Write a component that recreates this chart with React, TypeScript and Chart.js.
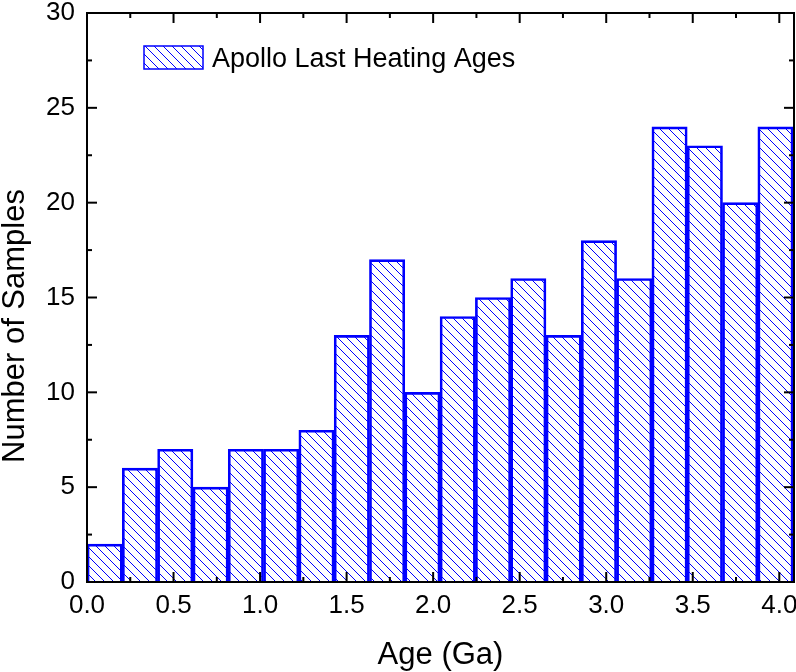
import React, { useEffect, useRef } from "react";
import { Chart, registerables } from "chart.js";

Chart.register(...registerables);

// Histogram bins (Ga): bin centers, width 0.204 Ga
const binCenters = [
  0.102, 0.306, 0.51, 0.714, 0.918, 1.122, 1.326, 1.53, 1.734, 1.938,
  2.142, 2.346, 2.55, 2.754, 2.958, 3.162, 3.366, 3.57, 3.774, 3.978,
];
const sampleCounts = [2, 6, 7, 5, 7, 7, 8, 13, 17, 10, 14, 15, 16, 13, 18, 16, 24, 23, 20, 24];
const seriesLabel = "Apollo Last Heating Ages";
const xTitle = "Age (Ga)";
const yTitle = "Number of Samples";
const xMin = 0;
const xMax = 4.085;
const yMin = 0;
const yMax = 30;

const FONT = "'Liberation Sans', Arial, Helvetica, sans-serif";
const BLUE = "#0000ff";

function makeHatch(): CanvasPattern | string {
  const s = 9;
  const c = document.createElement("canvas");
  c.width = s;
  c.height = s;
  const g = c.getContext("2d");
  if (!g) return BLUE;
  g.strokeStyle = BLUE;
  g.lineWidth = 1;
  g.beginPath();
  g.moveTo(0, 0);
  g.lineTo(s, s);
  g.moveTo(-2, s - 2);
  g.lineTo(2, s + 2);
  g.moveTo(s - 2, -2);
  g.lineTo(s + 2, 2);
  g.stroke();
  const p = g.createPattern(c, "repeat");
  return p || BLUE;
}

export default function App() {
  const ref = useRef<HTMLCanvasElement | null>(null);

  useEffect(() => {
    document.body.style.margin = "0";
    const canvas = ref.current;
    if (!canvas) return;
    const hatch = makeHatch();

    const framePlugin = {
      id: "frameTicks",
      afterDatasetsDraw(chart: any) {
        const { ctx, chartArea } = chart;
        const { left, right, top, bottom } = chartArea;
        const xs = chart.scales.x;
        const ys = chart.scales.y;
        ctx.save();
        ctx.strokeStyle = "#000";
        ctx.lineWidth = 2;
        const line = (x1: number, y1: number, x2: number, y2: number) => {
          ctx.beginPath();
          ctx.moveTo(x1, y1);
          ctx.lineTo(x2, y2);
          ctx.stroke();
        };
        const major = 10;
        const minor = 5;
        const xt = xs.ticks.map((t: any) => t.value);
        for (let i = 0; i < xt.length; i++) {
          const px = xs.getPixelForValue(xt[i]);
          line(px, bottom, px, bottom - major);
          line(px, top, px, top + major);
          const mv = xt[i] + 0.25;
          if (mv < xMax) {
            const pm = xs.getPixelForValue(mv);
            line(pm, bottom, pm, bottom - minor);
            line(pm, top, pm, top + minor);
          }
        }
        const yt = ys.ticks.map((t: any) => t.value);
        for (let i = 0; i < yt.length; i++) {
          const py = ys.getPixelForValue(yt[i]);
          line(left, py, left + major, py);
          line(right, py, right - major, py);
          const mv = yt[i] + 2.5;
          if (mv < yMax) {
            const pm = ys.getPixelForValue(mv);
            line(left, pm, left + minor, pm);
            line(right, pm, right - minor, pm);
          }
        }
        ctx.strokeRect(left, top, right - left, bottom - top);
        ctx.restore();
      },
      afterDraw(chart: any) {
        const { ctx } = chart;
        ctx.save();
        const bx = 144, by = 46, bw = 59, bh = 23;
        ctx.fillStyle = hatch as any;
        ctx.fillRect(bx, by, bw, bh);
        ctx.strokeStyle = BLUE;
        ctx.lineWidth = 1.5;
        ctx.strokeRect(bx, by, bw, bh);
        ctx.fillStyle = "#000";
        ctx.font = `27px ${FONT}`;
        ctx.textBaseline = "alphabetic";
        ctx.textAlign = "left";
        ctx.fillText(chart.data.datasets[0].label, 212, 67);
        ctx.restore();

        // y-axis title (placed slightly below the axis centre, as in the reference)
        ctx.save();
        ctx.translate(15.5, 326);
        ctx.rotate(-Math.PI / 2);
        ctx.fillStyle = "#000";
        ctx.font = `31px ${FONT}`;
        ctx.textAlign = "center";
        ctx.textBaseline = "middle";
        ctx.fillText(yTitle, 0, 0);
        ctx.restore();
      },
    };

    const chart = new Chart(canvas, {
      type: "bar",
      data: {
        datasets: [
          {
            label: seriesLabel,
            data: binCenters.map((x, i) => ({ x, y: sampleCounts[i] })),
            backgroundColor: hatch as any,
            borderColor: BLUE,
            borderWidth: 2,
            barPercentage: 1,
            categoryPercentage: 1,
          },
        ],
      },
      options: {
        responsive: false,
        maintainAspectRatio: false,
        devicePixelRatio: 1,
        animation: false,
        layout: { padding: { top: 13, right: 2, left: 0, bottom: 0 } },
        plugins: {
          legend: { display: false },
          tooltip: { enabled: false },
        },
        scales: {
          x: {
            type: "linear",
            min: xMin,
            max: xMax,
            offset: false,
            grid: { display: false, drawTicks: false, offset: false },
            border: { display: false },
            ticks: {
              stepSize: 0.5,
              includeBounds: false,
              padding: 8,
              color: "#000",
              font: { family: FONT, size: 26 },
              maxRotation: 0,
              callback: (v: any) => Number(v).toFixed(1),
            },
            title: {
              display: true,
              text: xTitle,
              color: "#000",
              font: { family: FONT, size: 31, lineHeight: 1 },
              padding: { top: 0, bottom: 1 },
            },
            afterFit: (s: any) => {
              s.height = 90;
              s.paddingLeft = 0;
              s.paddingRight = 0;
            },
          },
          y: {
            type: "linear",
            min: yMin,
            max: yMax,
            grid: { display: false, drawTicks: false },
            border: { display: false },
            ticks: {
              stepSize: 5,
              padding: 12,
              color: "#000",
              font: { family: FONT, size: 26 },
            },
            title: { display: false, text: yTitle },
            afterFit: (s: any) => {
              s.width = 87;
              s.paddingTop = 0;
              s.paddingBottom = 0;
            },
          },
        },
      },
      plugins: [framePlugin],
    } as any);

    return () => chart.destroy();
  }, []);

  return <canvas ref={ref} width={796} height={672} style={{ display: "block" }} />;
}
